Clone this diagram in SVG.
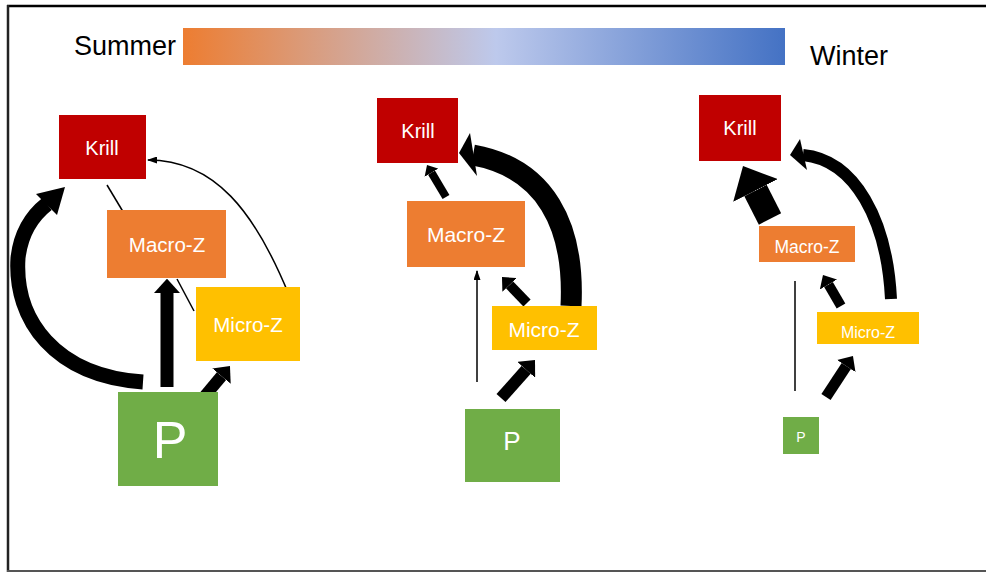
<svg xmlns="http://www.w3.org/2000/svg" width="986" height="573" viewBox="0 0 986 573">
<defs>
<linearGradient id="season" x1="0" y1="0" x2="1" y2="0">
<stop offset="0" stop-color="#ED7D31"/>
<stop offset="0.52" stop-color="#BDC9EC"/>
<stop offset="1" stop-color="#4472C4"/>
</linearGradient>
<marker id="ah" viewBox="0 0 11 20" markerWidth="1.1" markerHeight="2" refX="0" refY="10" orient="auto" markerUnits="strokeWidth">
<path d="M0,0 L11,10 L0,20 z" fill="#000"/>
</marker>
<marker id="thin" viewBox="0 0 10 7" markerWidth="10" markerHeight="7" refX="9" refY="3.5" orient="auto" markerUnits="userSpaceOnUse">
<path d="M0,0 L10,3.5 L0,7 z" fill="#000"/>
</marker>
<style>
.lbl{font-family:"Liberation Sans",Arial,sans-serif;fill:#fff;text-anchor:middle}
.season{font-family:"Liberation Sans",Arial,sans-serif;fill:#000;font-size:27px}
.krill{fill:#C00000}
.macro{fill:#ED7D31}
.micro{fill:#FFC000}
.prod{fill:#70AD47}
.thick{fill:none;stroke:#000;marker-end:url(#ah)}
.curve{fill:none;stroke:#000}
.thinline{fill:none;stroke:#000;stroke-width:1.5}
</style>
</defs>
<rect width="986" height="573" fill="#fff"/>
<g id="frame">
<line x1="7" y1="6" x2="986" y2="6" stroke="#000" stroke-width="2.5"/>
<line x1="8" y1="5" x2="8" y2="572" stroke="#222" stroke-width="2.5"/>
<line x1="7" y1="571" x2="986" y2="571" stroke="#555" stroke-width="2"/>
</g>
<g id="season-bar">
<rect x="183" y="28" width="602" height="37" fill="url(#season)"/>
<text class="season" x="74" y="55">Summer</text>
<text class="season" x="810" y="65">Winter</text>
</g>
<g id="connectors">
<!-- panel 1 -->
<path class="curve" d="M143,382 C55,376 14,320 18,258 C21,232 33,215 47,204" stroke-width="15"/>
<polygon points="65,187 36,194 57,215" fill="#000"/>
<path class="thick" d="M167,387 L167,293" stroke-width="13"/>
<path class="thick" d="M199,403 L221.5,376.1" stroke-width="12"/>
<line class="thinline" x1="107" y1="185" x2="125" y2="215"/>
<line class="thinline" x1="177" y1="279" x2="194" y2="311"/>
<path class="thinline" d="M289,295 C255,212 215,160 148,160" marker-end="url(#thin)"/>
<!-- panel 2 -->
<path class="curve" d="M571,306 C575,225 545,168 473,155" stroke-width="21"/>
<polygon points="459,153 470,133 477,176" fill="#000"/>
<path class="thick" d="M446,197 L431.5,172.6" stroke-width="8"/>
<path class="thick" d="M501,398 L526.2,369.8" stroke-width="12"/>
<path class="thick" d="M527,303 L509.6,284.9" stroke-width="10"/>
<line class="thinline" x1="477" y1="382" x2="477" y2="271" marker-end="url(#thin)"/>
<!-- panel 3 -->
<path class="curve" d="M891,299 C887,220 855,160 803,155" stroke-width="12"/>
<polygon points="790,155 800,139 807,170" fill="#000"/>
<path class="thick" d="M770,219 L755.5,190.5" stroke-width="25"/>
<path class="thick" d="M826,397 L846.3,366.1" stroke-width="11"/>
<path class="thick" d="M841,306 L828.5,284.5" stroke-width="10"/>
<line class="thinline" x1="795" y1="391" x2="795" y2="281"/>
</g>
<g id="p1-krill"><rect class="krill" x="59" y="115" width="87" height="64"/><text class="lbl" x="102" y="155" font-size="20">Krill</text></g>
<g id="p1-macro"><rect class="macro" x="107" y="210" width="119" height="68"/><text class="lbl" x="167" y="252" font-size="20.5">Macro-Z</text></g>
<g id="p1-micro"><rect class="micro" x="196" y="287" width="104" height="74"/><text class="lbl" x="248" y="332" font-size="20.5">Micro-Z</text></g>
<g id="p1-p"><rect class="prod" x="118" y="392" width="100" height="94"/><text class="lbl" x="170" y="458" font-size="52">P</text></g>
<g id="p2-krill"><rect class="krill" x="377" y="98" width="81" height="65"/><text class="lbl" x="418" y="138" font-size="20">Krill</text></g>
<g id="p2-macro"><rect class="macro" x="407" y="201" width="118" height="66"/><text class="lbl" x="466" y="242" font-size="21">Macro-Z</text></g>
<g id="p2-micro"><rect class="micro" x="492" y="306" width="105" height="44"/><text class="lbl" x="544" y="337" font-size="21">Micro-Z</text></g>
<g id="p2-p"><rect class="prod" x="465" y="409" width="95" height="73"/><text class="lbl" x="512" y="450" font-size="26">P</text></g>
<g id="p3-krill"><rect class="krill" x="699" y="95" width="82" height="66"/><text class="lbl" x="740" y="135" font-size="20">Krill</text></g>
<g id="p3-macro"><rect class="macro" x="759" y="226" width="96" height="36"/><text class="lbl" x="807" y="253" font-size="17.5">Macro-Z</text></g>
<g id="p3-micro"><rect class="micro" x="817" y="312" width="102" height="32"/><text class="lbl" x="868" y="338" font-size="16">Micro-Z</text></g>
<g id="p3-p"><rect class="prod" x="783" y="417" width="36" height="37"/><text class="lbl" x="801" y="442" font-size="14">P</text></g>
</svg>
